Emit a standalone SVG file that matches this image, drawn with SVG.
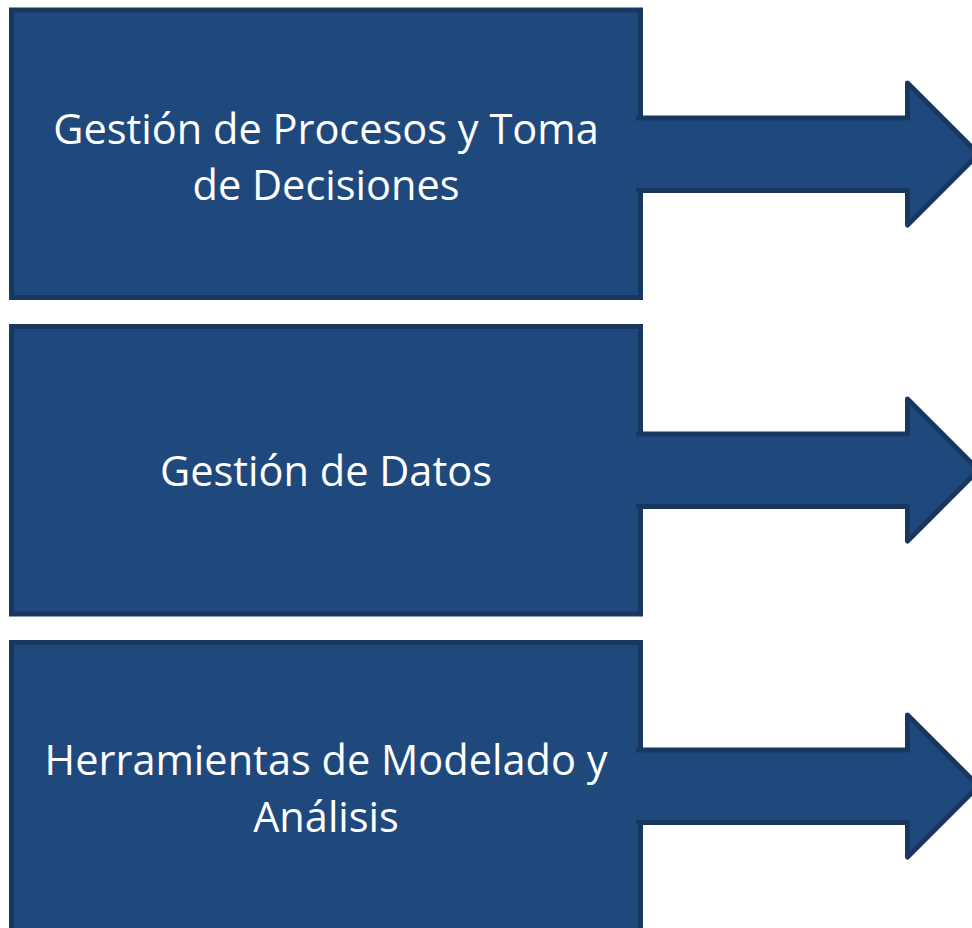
<svg xmlns="http://www.w3.org/2000/svg" width="972" height="928" viewBox="0 0 972 928">
  <style>
    .box { fill: #1f497d; stroke: #17375e; stroke-width: 5; }
    .arrow { fill: #1f497d; stroke: #17375e; stroke-width: 5; stroke-linejoin: round; }
    .label { font-family: "Open Sans", "Liberation Sans", sans-serif; font-size: 41.5px; fill: #ffffff; text-anchor: middle; }
  </style>
  <rect width="972" height="928" fill="#ffffff"/>
  <g id="node1">
    <rect class="box" x="11.5" y="10" width="629" height="287.5"/>
  </g>
  <g id="node2">
    <rect class="box" x="11.5" y="326.5" width="629" height="287.5"/>
  </g>
  <g id="node3">
    <rect class="box" x="11.5" y="642.5" width="629" height="290"/>
  </g>
  <g id="connectors">
    <path class="arrow" d="M636,118 H907.5 V83 L978.5,154 L907.5,225 V190.5 H636"/>
    <path class="arrow" d="M636,434 H907.5 V399 L978.5,470 L907.5,541 V506.5 H636"/>
    <path class="arrow" d="M636,750 H907.5 V715 L978.5,786 L907.5,857 V822.5 H636"/>
  </g>
  <g id="labels">
    <text class="label" x="326" y="144">Gestión de Procesos y Toma</text>
    <text class="label" x="326" y="200">de Decisiones</text>
    <text class="label" x="326" y="486">Gestión de Datos</text>
    <text class="label" x="326" y="775">Herramientas de Modelado y</text>
    <text class="label" x="326" y="832">Análisis</text>
  </g>
</svg>
